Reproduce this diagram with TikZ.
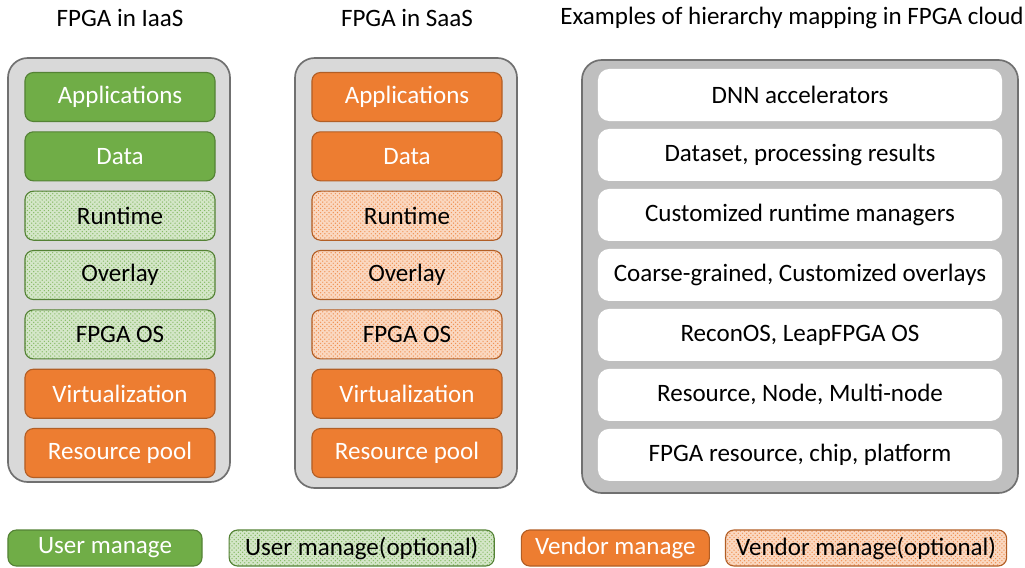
\documentclass[tikz,border=0pt]{standalone}
\usepackage{fontspec}
\setmainfont{Carlito}
\usepackage{xcolor}
\usetikzlibrary{positioning, patterns}
\definecolor{usergreen}{HTML}{70AD47}
\definecolor{vendororange}{HTML}{ED7D31}
\definecolor{frame}{HTML}{707070}

\tikzset{
  layer/.style={draw, rounded corners=6pt, line width=0.8pt, minimum width=4.75cm,
    minimum height=1.225cm, inner sep=0pt, font=\fontsize{17.8}{21}\selectfont},
  usr/.style={layer, fill=usergreen, draw=usergreen!75!black, text=white},
  usropt/.style={layer, draw=usergreen!75!black, preaction={fill=usergreen!30!white},
    pattern=crosshatch dots, pattern color=usergreen!85, text=black},
  vnd/.style={layer, fill=vendororange, draw=vendororange!75!black, text=white},
  vndopt/.style={layer, draw=vendororange!75!black, preaction={fill=vendororange!30!white},
    pattern=crosshatch dots, pattern color=vendororange!85, text=black},
  example/.style={fill=white, rounded corners=8pt, minimum width=10.1cm,
    minimum height=1.3cm, inner sep=0pt, font=\fontsize{17.8}{21}\selectfont},
  stack/.style={draw=frame, line width=1.2pt, rounded corners=14pt},
  heading/.style={font=\fontsize{17.8}{21}\selectfont}
}

\begin{document}
\begin{tikzpicture}[x=0.025cm, y=-0.025cm]
\useasboundingbox (0,0) rectangle (1025,567);
%titles
\node[heading] (t1) at (120,18) {FPGA in IaaS};
\node[heading] (t2) at (407,18) {FPGA in SaaS};
\node[heading] (t3) at (792,18) {Examples of hierarchy mapping in FPGA cloud};
%stacks
\draw[stack, fill=black!15] (8,58) rectangle (230,482);
\draw[stack, fill=black!15] (295,58) rectangle (517,488);
\draw[stack, fill=black!25] (582,60) rectangle (1018,493);
%IaaS
\node[usr] (i1) at (120,97) {Applications};
\node[usr, below=0.23cm of i1] (i2) {Data};
\node[usropt, below=0.23cm of i2] (i3) {Runtime};
\node[usropt, below=0.23cm of i3] (i4) {Overlay};
\node[usropt, below=0.23cm of i4] (i5) {FPGA OS};
\node[vnd, below=0.23cm of i5] (i6) {Virtualization};
\node[vnd, below=0.23cm of i6] (i7) {Resource pool};
%SaaS
\node[vnd] (s1) at (407,97) {Applications};
\node[vnd, below=0.23cm of s1] (s2) {Data};
\node[vndopt, below=0.23cm of s2] (s3) {Runtime};
\node[vndopt, below=0.23cm of s3] (s4) {Overlay};
\node[vndopt, below=0.23cm of s4] (s5) {FPGA OS};
\node[vnd, below=0.23cm of s5] (s6) {Virtualization};
\node[vnd, below=0.23cm of s6] (s7) {Resource pool};
%examples
\node[example] (e1) at (800,95) {DNN accelerators};
\node[example, below=0.185cm of e1] (e2) {Dataset, processing results};
\node[example, below=0.185cm of e2] (e3) {Customized runtime managers};
\node[example, below=0.185cm of e3] (e4) {Coarse-grained, Customized overlays};
\node[example, below=0.185cm of e4] (e5) {ReconOS, LeapFPGA OS};
\node[example, below=0.185cm of e5] (e6) {Resource, Node, Multi-node};
\node[example, below=0.185cm of e6] (e7) {FPGA resource, chip, platform};
%legend
\node[usr, minimum width=4.85cm, minimum height=0.9cm] (l1) at (105,548) {User manage};
\node[usropt, minimum width=6.625cm, minimum height=0.9cm, right=0.65cm of l1] (l2) {User manage(optional)};
\node[vnd, minimum width=4.7cm, minimum height=0.9cm, right=0.65cm of l2] (l3) {Vendor manage};
\node[vndopt, minimum width=7.025cm, minimum height=0.9cm, right=0.375cm of l3] (l4) {Vendor manage(optional)};
\end{tikzpicture}
\end{document}
